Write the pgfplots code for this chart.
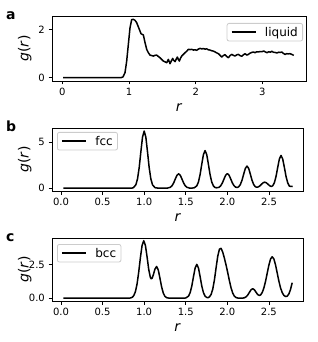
\documentclass[border=0pt]{standalone}
\usepackage{fontspec}
\setmainfont{DejaVu Sans}
\usepackage{pgfplots}
\pgfplotsset{compat=1.18}
\pgfplotsset{legend image code/.code={\draw[#1, black, line width=1.5pt] (0pt,0pt) -- (24pt,0pt);}}
\pgfplotsset{
  gstyle/.style={
    scale only axis,
    axis line style={line width=0.8pt},
    every tick/.style={line width=0.8pt, black},
    tick align=outside,
    major tick length=3.5pt,
    tick pos=left,
    /pgf/number format/assume math mode=true,
    tick label style={font=\fontsize{10}{12}\selectfont},
    xticklabel style={inner sep=0pt, anchor=north, yshift=-3.5pt},
    yticklabel style={inner sep=0pt, anchor=east, xshift=-3.5pt},
    label style={font=\fontsize{14}{16}\selectfont},
    xlabel style={at={(axis description cs:0.5,0)}, anchor=north, inner sep=0pt, yshift=-22pt},
    ylabel style={anchor=south, inner sep=0pt},
    xlabel={\textit{r}},
    ylabel={\textit{g}(\textit{r})},
    legend style={font=\fontsize{12}{14}\selectfont, draw=black!20, line width=0.8pt,
      rounded corners=2pt, fill=white, fill opacity=0.8, text opacity=1, draw opacity=1,
      inner xsep=3.8pt, inner ysep=2.5pt, nodes={inner sep=1pt}, column sep=7.6pt},
    legend cell align=left,
  },
  gline/.style={black, line width=1.5pt, line join=round},
}
\begin{document}
\begin{tikzpicture}
\useasboundingbox (0pt,0pt) rectangle (317pt,-342pt);
\node[anchor=base west, inner sep=0pt, font=\bfseries\fontsize{14}{16}\selectfont] at (6pt,-19.5pt) {a};
\node[anchor=base west, inner sep=0pt, font=\bfseries\fontsize{14}{16}\selectfont] at (6pt,-131.5pt) {b};
\node[anchor=base west, inner sep=0pt, font=\bfseries\fontsize{14}{16}\selectfont] at (6pt,-241pt) {c};

% ---------- panel a ----------
\begin{axis}[gstyle, at={(52pt,-81pt)}, anchor=south west, width=254pt, height=65pt,
  xmin=-0.155, xmax=3.654, ymin=-0.14, ymax=2.57,
  xtick={0,1,2,3}, ytick={0,2},
  ylabel style={at={(axis description cs:-0.080,0.5)}},
  legend style={at={(1,1)}, anchor=north east, xshift=-3pt, yshift=-7pt}]
\addplot[gline] coordinates {
(0.01,0) (0.88,0) (0.91,0.03) (0.94,0.21) (0.965,0.69) (0.99,1.39) (1.015,2.08) (1.04,2.42)
(1.065,2.43) (1.09,2.39) (1.115,2.29) (1.135,2.15) (1.155,2.01) (1.18,1.83) (1.2,1.80) (1.215,1.78)
(1.24,1.46) (1.265,1.18) (1.29,1.04) (1.315,0.94) (1.34,0.92) (1.365,0.90) (1.39,0.93) (1.415,0.94)
(1.44,0.88) (1.465,0.83) (1.49,0.76) (1.515,0.69) (1.54,0.66) (1.565,0.62) (1.59,0.76) (1.615,0.58)
(1.635,0.70) (1.655,0.80) (1.67,0.72) (1.69,0.67) (1.71,0.78) (1.725,0.86) (1.74,0.76) (1.755,0.69)
(1.77,0.80) (1.79,0.90) (1.815,0.97) (1.84,1.04) (1.865,1.10) (1.89,1.18) (1.915,1.17) (1.94,1.18)
(1.965,1.15) (1.99,1.16) (2.015,1.14) (2.04,1.19) (2.065,1.22) (2.09,1.20) (2.115,1.21) (2.14,1.19)
(2.165,1.20) (2.19,1.16) (2.215,1.15) (2.24,1.12) (2.26,1.11) (2.285,1.08) (2.31,1.04) (2.34,1.0)
(2.365,0.93) (2.39,0.86) (2.415,0.92) (2.44,0.96) (2.465,0.88) (2.49,0.83) (2.515,0.92) (2.54,0.97)
(2.565,0.93) (2.59,0.90) (2.615,0.95) (2.64,0.97) (2.665,0.92) (2.69,0.89) (2.715,0.95) (2.74,1.0)
(2.765,0.94) (2.79,0.97) (2.815,1.02) (2.84,1.05) (2.865,1.07) (2.89,1.04) (2.915,1.08) (2.94,1.07)
(2.965,1.09) (2.99,1.08) (3.02,1.11) (3.045,1.07) (3.07,1.04) (3.095,1.08) (3.12,1.06) (3.14,1.10)
(3.165,1.06) (3.19,1.05) (3.22,1.03) (3.245,1.06) (3.27,1.05) (3.29,1.07) (3.315,1.01) (3.34,0.97)
(3.365,1.0) (3.39,0.99) (3.415,1.0) (3.44,0.97) (3.47,0.93)
};
\addlegendentry{liquid}
\end{axis}

% ---------- panel b ----------
\begin{axis}[gstyle, at={(52pt,-191pt)}, anchor=south west, width=251.5pt, height=62.7pt,
  xmin=-0.108, xmax=2.915, ymin=-0.31, ymax=6.5,
  xtick={0,0.5,1,1.5,2,2.5}, ytick={0,5},
  xticklabel style={/pgf/number format/.cd, fixed, fixed zerofill, precision=1},
  ylabel style={at={(axis description cs:-0.0807,0.5)}},
  legend style={at={(0,1)}, anchor=north west, xshift=5pt, yshift=-3.7pt}]
\addplot[gline] coordinates {
(0.03,0) (0.85,0) (0.87,0.05) (0.90,0.365) (0.92,1.01) (0.94,2.23) (0.96,3.94) (0.98,5.54)
(1.00,6.2) (1.02,5.54) (1.04,3.94) (1.06,2.23) (1.08,1.01) (1.10,0.365) (1.13,0.05) (1.17,0.0)
(1.28,0.01) (1.314,0.092) (1.334,0.254) (1.354,0.562) (1.374,0.991) (1.394,1.393) (1.414,1.56)
(1.434,1.393) (1.454,0.991) (1.474,0.562) (1.494,0.254) (1.514,0.092) (1.544,0.013) (1.57,0.005)
(1.60,0.03) (1.632,0.24) (1.652,0.665) (1.672,1.469) (1.692,2.591) (1.712,3.643) (1.732,4.08)
(1.752,3.643) (1.772,2.591) (1.792,1.469) (1.812,0.665) (1.832,0.24) (1.852,0.07) (1.87,0.04)
(1.90,0.09) (1.92,0.258) (1.94,0.569) (1.96,1.003) (1.98,1.411) (2.00,1.58) (2.02,1.411)
(2.04,1.003) (2.06,0.569) (2.08,0.263) (2.10,0.106) (2.12,0.08) (2.136,0.149) (2.156,0.394)
(2.176,0.864) (2.196,1.524) (2.216,2.143) (2.236,2.40) (2.256,2.143) (2.276,1.524) (2.296,0.865)
(2.316,0.395) (2.336,0.158) (2.349,0.10) (2.369,0.122) (2.389,0.237) (2.409,0.413) (2.429,0.58)
(2.449,0.65) (2.469,0.58) (2.489,0.417) (2.509,0.253) (2.529,0.184) (2.545,0.257) (2.565,0.593)
(2.585,1.278) (2.605,2.254) (2.625,3.17) (2.645,3.55) (2.665,3.17) (2.685,2.254) (2.705,1.278)
(2.725,0.579) (2.745,0.22) (2.765,0.18) (2.785,0.2)
};
\addlegendentry{fcc}
\end{axis}

% ---------- panel c ----------
\begin{axis}[gstyle, at={(52pt,-301pt)}, anchor=south west, width=251pt, height=62.7pt,
  xmin=-0.108, xmax=2.91, ymin=-0.21, ymax=4.48,
  xtick={0,0.5,1,1.5,2,2.5}, ytick={0,2.5},
  xticklabel style={/pgf/number format/.cd, fixed, fixed zerofill, precision=1},
  yticklabel style={/pgf/number format/.cd, fixed, fixed zerofill, precision=1},
  ylabel style={at={(axis description cs:-0.081,0.5)}},
  legend style={at={(0,1)}, anchor=north west, xshift=5pt, yshift=-5.7pt}]
\addplot[gline] coordinates {
(0.03,0) (0.80,0) (0.835,0.017) (0.855,0.061) (0.875,0.189) (0.895,0.49) (0.915,1.071)
(0.935,1.969) (0.955,3.04) (0.975,3.943) (0.995,4.30) (1.015,3.956) (1.035,3.095) (1.055,2.151)
(1.075,1.548) (1.085,1.45) (1.095,1.487) (1.11,1.736) (1.13,2.18) (1.15,2.373) (1.17,2.104)
(1.19,1.492) (1.21,0.846) (1.23,0.383) (1.25,0.138) (1.27,0.04) (1.30,0.004) (1.47,0.0)
(1.50,0.017) (1.533,0.149) (1.553,0.412) (1.573,0.911) (1.593,1.607) (1.613,2.259) (1.633,2.53)
(1.653,2.259) (1.673,1.607) (1.693,0.911) (1.713,0.412) (1.733,0.15) (1.753,0.054) (1.77,0.045)
(1.785,0.10) (1.805,0.279) (1.825,0.68) (1.845,1.37) (1.865,2.28) (1.885,3.14) (1.905,3.67)
(1.925,3.73) (1.945,3.44) (1.965,2.99) (1.985,2.48) (2.005,1.91) (2.025,1.31) (2.045,0.77)
(2.065,0.38) (2.085,0.152) (2.105,0.051) (2.125,0.014) (2.145,0.005) (2.185,0.008) (2.205,0.031)
(2.225,0.096) (2.245,0.231) (2.265,0.431) (2.285,0.626) (2.305,0.712) (2.325,0.631) (2.345,0.447)
(2.365,0.275) (2.385,0.206) (2.40,0.246) (2.42,0.43) (2.44,0.772) (2.46,1.274) (2.48,1.882)
(2.50,2.483) (2.52,2.933) (2.54,3.10) (2.56,2.933) (2.58,2.483) (2.60,1.882) (2.62,1.274)
(2.64,0.772) (2.66,0.421) (2.68,0.213) (2.70,0.125) (2.72,0.149) (2.74,0.315) (2.76,0.654)
(2.78,1.16)
};
\addlegendentry{bcc}
\end{axis}
\end{tikzpicture}
\end{document}
